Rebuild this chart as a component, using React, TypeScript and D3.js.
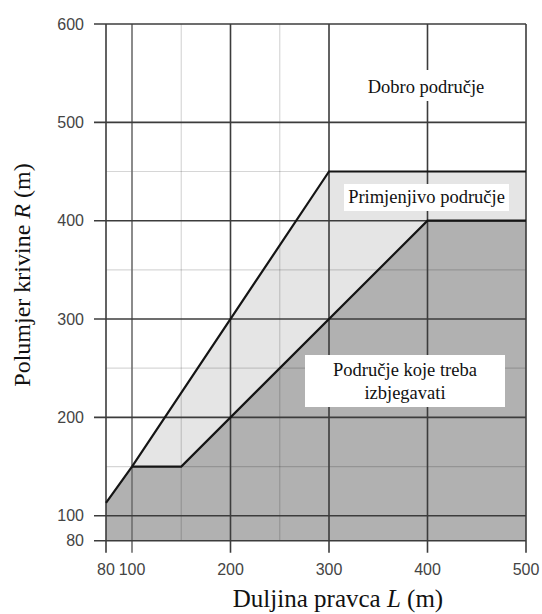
import React from "react";
import * as d3 from "d3";

// Axis breaks (the "80" tick sits closer than linear spacing, as in the reference)
const xTickValues = [80, 100, 200, 300, 400, 500];
const yTickValues = [80, 100, 200, 300, 400, 500, 600];
const xMinorValues = [150, 250];
const yMinorValues = [150, 250, 350, 450];

// Upper boundary (between "Dobro" and "Primjenjivo")
const upperL = [80, 100, 300, 500];
const upperR = [113, 150, 450, 450];
// Lower boundary (between "Primjenjivo" and "izbjegavati")
const lowerL = [100, 150, 400, 500];
const lowerR = [150, 150, 400, 400];

const regionLabels = ["Dobro područje", "Primjenjivo područje", "Područje koje treba", "izbjegavati"];

export default function App() {
  const W = 542, H = 614;
  const x = d3.scaleLinear().domain([80, 100, 500]).range([106, 132, 526]);
  const y = d3.scaleLinear().domain([80, 100, 600]).range([540.7, 515.7, 24]);

  const upper = upperL.map((l, i) => [l, upperR[i]] as [number, number]);
  const lower = lowerL.map((l, i) => [l, lowerR[i]] as [number, number]);

  const line = d3.line<[number, number]>().x(d => x(d[0])).y(d => y(d[1]));
  const area = d3.area<[number, number]>().x(d => x(d[0])).y0(y(80)).y1(d => y(d[1]));

  const darkTop = [upper[0], ...lower];
  const lightPoly = [...upper.slice(1), ...lower.slice().reverse()];

  const serif = "'Liberation Serif', 'Times New Roman', serif";
  const sans = "'Liberation Sans', Arial, sans-serif";
  const majorColor = "#3c3c3c";

  return (
    <svg width={W} height={H} style={{ position: "absolute", left: 0, top: 0, background: "#fff" }}>
      <rect x={0} y={0} width={W} height={H} fill="#fff" />
      {/* fills */}
      <path d={line(lightPoly)! + "Z"} fill="#e5e5e5" />
      <path d={area(darkTop)!} fill="#b1b1b1" />
      {/* minor grid */}
      {xMinorValues.map(v => (
        <line key={"mx" + v} x1={x(v)} x2={x(v)} y1={y(80)} y2={y(600)} stroke="rgba(0,0,0,0.16)" strokeWidth={1.2} />
      ))}
      {yMinorValues.map(v => (
        <line key={"my" + v} x1={x(80)} x2={x(500)} y1={y(v)} y2={y(v)} stroke="rgba(0,0,0,0.16)" strokeWidth={1.2} />
      ))}
      {/* major grid + ticks */}
      {xTickValues.map(v => (
        <line key={"gx" + v} x1={x(v)} x2={x(v)} y1={y(80) + 12} y2={y(600)}
          stroke={v === 100 ? "#6e6e6e" : majorColor} strokeWidth={1.6} />
      ))}
      {yTickValues.map(v => (
        <line key={"gy" + v} x1={x(80) - 12} x2={x(500)} y1={y(v)} y2={y(v)} stroke={majorColor} strokeWidth={1.6} />
      ))}
      {/* boundary lines */}
      <path d={line(upper)!} fill="none" stroke="#151515" strokeWidth={2.2} strokeLinejoin="miter" />
      <path d={line(lower)!} fill="none" stroke="#151515" strokeWidth={2.2} strokeLinejoin="miter" />
      {/* tick labels */}
      {xTickValues.map(v => (
        <text key={"tx" + v} x={x(v)} y={575} textAnchor="middle" fontFamily={sans} fontSize={16} fill="#444">{v}</text>
      ))}
      {yTickValues.map(v => (
        <text key={"ty" + v} x={84} y={y(v)} dy="0.36em" textAnchor="end" fontFamily={sans} fontSize={16} fill="#444">{v}</text>
      ))}
      {/* region labels */}
      <rect x={362} y={70} width={128} height={31} fill="#fff" />
      <text x={426} y={93} textAnchor="middle" fontFamily={serif} fontSize={18.5} fill="#111">{regionLabels[0]}</text>
      <rect x={344} y={184} width={165} height={27} fill="#fff" />
      <text x={426.5} y={203} textAnchor="middle" fontFamily={serif} fontSize={18.5} fill="#111">{regionLabels[1]}</text>
      <rect x={305} y={355} width={200} height={52} fill="#fff" />
      <text x={405} y={376} textAnchor="middle" fontFamily={serif} fontSize={18.5} fill="#111">{regionLabels[2]}</text>
      <text x={405} y={399} textAnchor="middle" fontFamily={serif} fontSize={18.5} fill="#111">{regionLabels[3]}</text>
      {/* axis titles */}
      <text x={338} y={607} textAnchor="middle" fontFamily={serif} fontSize={25} fill="#111">
        Duljina pravca <tspan fontStyle="italic">L</tspan> (m)
      </text>
      <text transform="translate(30,275) rotate(-90)" textAnchor="middle" fontFamily={serif} fontSize={24} fill="#111">
        Polumjer krivine <tspan fontStyle="italic">R</tspan> (m)
      </text>
    </svg>
  );
}
